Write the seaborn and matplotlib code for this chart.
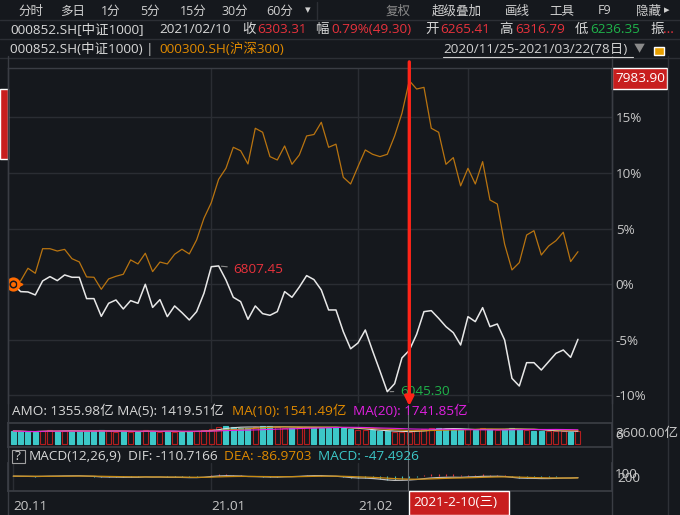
import numpy as np
import pandas as pd
import matplotlib
matplotlib.use('Agg')
import matplotlib.pyplot as plt
from matplotlib.patches import Rectangle
from matplotlib.lines import Line2D
import seaborn as sns

# % change vs 2020-11-25 close, one value per trading day (78 days)
csi1000_pct = [0.0, -0.66, -0.69, -0.96, 0.30, 0.69, 0.33, 0.84, 0.63, 0.63,
               -1.29, -1.29, -2.88, -1.71, -1.41, -2.22, -1.47, -1.71, 0.0, -2.08,
               -1.38, -2.91, -1.95, -2.55, -3.21, -2.46, -0.81, 1.58, 1.65, 0.39,
               -1.17, -1.56, -3.15, -1.95, -2.64, -2.79, -2.46, -0.66, -1.17, -0.25,
               0.78, 0.42, -0.51, -2.31, -2.31, -4.26, -5.80, -5.28, -4.11, -6.00,
               -7.80, -9.66, -8.94, -6.62, -5.94, -4.50, -2.46, -2.37, -3.06, -3.81,
               -4.35, -5.46, -2.91, -3.36, -2.10, -3.81, -3.57, -5.01, -8.46, -9.15,
               -7.05, -7.05, -7.71, -6.96, -6.21, -5.91, -6.57, -4.95]
csi300_pct = [0.0, 0.30, 1.44, 0.99, 3.20, 3.20, 2.99, 3.14, 2.30, 2.01,
              0.66, 0.63, -0.45, 0.48, 0.72, 0.90, 2.19, 1.83, 2.79, 1.14,
              2.00, 1.83, 2.70, 3.15, 2.73, 3.99, 5.94, 7.34, 9.44, 10.43,
              12.32, 12.01, 10.82, 14.03, 13.67, 11.48, 11.18, 12.44, 10.79, 11.63,
              13.34, 13.47, 14.57, 12.32, 12.60, 9.62, 9.02, 10.58, 12.08, 11.69,
              11.48, 11.69, 13.34, 15.38, 18.31, 17.56, 17.71, 14.03, 13.67, 10.79,
              11.39, 8.85, 10.43, 9.02, 11.03, 7.58, 7.22, 3.60, 1.29, 1.95,
              4.43, 4.82, 2.63, 3.44, 3.92, 4.68, 2.04, 2.93]
# turnover (亿) of 000852
amount_yi = [1500, 1450, 1380, 1420, 1550, 1600, 1480, 1520, 1500, 1460,
             1540, 1480, 1620, 1450, 1400, 1500, 1380, 1420, 1560, 1450,
             1400, 1500, 1430, 1380, 1450, 1520, 1600, 1750, 1950, 2100,
             2000, 1900, 1850, 1980, 2020, 2050, 1980, 1900, 1880, 1950,
             2010, 1920, 1870, 1900, 1970, 1800, 1750, 1620, 1580, 1560,
             1450, 1480, 1390, 1428, 1356, 1650, 1700, 1900, 1850, 1750,
             1700, 1600, 1700, 1650, 1800, 1700, 1600, 1750, 1900, 1700,
             1600, 1550, 1500, 1550, 1480, 1450, 1420, 1500]
grid_days = [27, 47, 62]          # 21.01, 21.02, 21.03
date_labels = ['20.11', '21.01', '21.02']
date_label_days = [0, 27, 47]
base_price = 6701.6
sel_day = 54                      # 2021-02-10

W, H = 680, 515
BG = '#15181d'
GRID = '#2a2d33'
TXT = '#c8c8c8'
RED = '#e8323c'
GREEN = '#1fb34a'
ORANGE = '#e08a00'
CYAN = '#3cc8c8'
MAGENTA = '#e020e0'
FS = 9.7

sns.set_theme(style='dark', rc={'figure.facecolor': BG, 'axes.facecolor': BG,
                                'savefig.facecolor': BG})
plt.rcParams['font.family'] = ['Open Sans', 'Noto Sans CJK SC', 'DejaVu Sans']

fig = plt.figure(figsize=(W / 100, H / 100), dpi=100)


def px_axes(x0, y0, x1, y1):
    return fig.add_axes([x0 / W, 1 - y1 / H, (x1 - x0) / W, (y1 - y0) / H])


def ftxt(x, y, s, color=TXT, size=FS, ha='left', **kw):
    fig.text(x / W, 1 - y / H, s, color=color, fontsize=size, ha=ha, va='center', **kw)


def fline(x0, y0, x1, y1, color=GRID, lw=1.0):
    fig.add_artist(Line2D([x0 / W, x1 / W], [1 - y0 / H, 1 - y1 / H], color=color, lw=lw))


def frect(x0, y0, x1, y1, color, **kw):
    fig.add_artist(Rectangle((x0 / W, 1 - y1 / H), (x1 - x0) / W, (y1 - y0) / H,
                             facecolor=color, **kw))


days = np.arange(len(csi1000_pct))
xlim = (-0.68, 81.6)

# ---- main chart
ax = px_axes(8.3, 68, 611.7, 402.7)
df = pd.DataFrame({'day': days, 'csi1000': csi1000_pct, 'csi300': csi300_pct})
sns.lineplot(data=df, x='day', y='csi300', ax=ax, color='#b97410', lw=0.9)
sns.lineplot(data=df, x='day', y='csi1000', ax=ax, color='#e8e8e8', lw=1.1)
ax.set_xlim(xlim)
ax.set_ylim(-10.65, 19.45)
ax.set_xticks(grid_days)
ax.set_xticklabels([])
ax.set_yticks([-10, -5, 0, 5, 10, 15])
ax.set_yticklabels(['-10%', '-5%', '0%', '5%', '10%', '15%'])
ax.yaxis.tick_right()
ax.tick_params(axis='y', colors=TXT, labelsize=FS, length=0, pad=3)
ax.tick_params(axis='x', length=0)
ax.grid(True, color=GRID, lw=1.0)
ax.set_xlabel('')
ax.set_ylabel('')
for side, sp in ax.spines.items():
    sp.set_visible(side in ('top', 'right', 'left'))
    sp.set_color('#3a3d44')
    sp.set_linewidth(1.0)

ax.plot(0, 0, marker='o', ms=8, mfc=BG, mec='#ff6a00', mew=2.2, zorder=5)
ax.plot(0, 0, marker='o', ms=2.5, color='#ff6a00', zorder=6)
ax.plot(0.95, 0, marker='>', ms=3.5, color='#ff6a00', zorder=6)

ax.annotate('6807.45', xy=(28, 1.65), xytext=(30.0, 1.29), color=RED, fontsize=FS,
            va='center', ha='left', arrowprops=dict(arrowstyle='-', color='#8a8a8a', lw=0.8))
ax.annotate('6045.30', xy=(51, -9.66), xytext=(52.7, -9.6), color=GREEN, fontsize=FS,
            va='center', ha='left', arrowprops=dict(arrowstyle='-', color='#8a8a8a', lw=0.8))
ax.annotate('', xy=(sel_day, -10.95), xytext=(sel_day, 20.0), annotation_clip=False,
            arrowprops=dict(arrowstyle='-|>', color='#ff2418', lw=2.4, mutation_scale=13,
                            shrinkA=0, shrinkB=0), zorder=10)

# ---- amount panel
ax_v = px_axes(8.3, 422.7, 611.7, 446.7)
up = np.r_[False, np.diff(csi1000_pct) > 0]
fills = [BG if u else CYAN for u in up]
edges = ['#b41e1e' if u else CYAN for u in up]
ax_v.bar(days, amount_yi, width=0.68, color=fills, edgecolor=edges, linewidth=0.8)
amt = pd.Series(amount_yi)
for n, c in [(5, '#d8d8d8'), (10, '#c88a10'), (20, MAGENTA)]:
    sns.lineplot(x=days, y=amt.rolling(n, min_periods=1).mean().values, ax=ax_v,
                 color=c, lw=0.8)
ax_v.set_xlim(xlim)
ax_v.set_ylim(-312, 2458)
ax_v.set_xticks(grid_days)
ax_v.set_yticks([])
ax_v.set_xticklabels([])
ax_v.tick_params(length=0)
ax_v.grid(True, axis='x', color=GRID)
for side, sp in ax_v.spines.items():
    sp.set_color('#3a3d44')

# ---- MACD panel
ax_m = px_axes(8.3, 463, 611.7, 490.7)
price = pd.Series(base_price * (1 + np.array(csi1000_pct) / 100))
dif = price.ewm(span=12, adjust=False).mean() - price.ewm(span=26, adjust=False).mean()
dea = dif.ewm(span=9, adjust=False).mean()
hist = 2 * (dif - dea)
ax_m.vlines(days, 0, hist, colors=[RED if h > 0 else CYAN for h in hist], lw=0.8)
sns.lineplot(x=days, y=dif.values, ax=ax_m, color='#bdbdbd', lw=0.9)
sns.lineplot(x=days, y=dea.values, ax=ax_m, color='#c88a10', lw=0.9)
ax_m.set_xlim(xlim)
ax_m.set_ylim(-420, 380)
ax_m.set_yticks([])
ax_m.set_xticks(date_label_days)
ax_m.set_xticklabels(date_labels, ha='left', color=TXT, fontsize=FS)
ax_m.set_xticks(np.arange(0, 78, 4), minor=True)
ax_m.tick_params(axis='x', which='both', direction='out', length=4, color='#55585e', pad=3)
ax_m.grid(True, axis='x', color=GRID)
ax_m.spines['top'].set_visible(False)
for side, sp in ax_m.spines.items():
    sp.set_color('#3a3d44')

# crosshair through lower panels
fline(408.3, 405, 408.3, 490, color='#6a6d72', lw=0.8)
# right divider and scroll column
fline(611.7, 56, 611.7, 515, color='#3a3d44')
fline(668, 56, 668, 515, color='#2e3137')

# ---- header rows
fline(0, 20, 680, 20, color='#2c2f35')
fline(0, 39, 680, 39, color='#2c2f35')
fline(0, 58, 680, 58, color='#2c2f35')
for x, s in [(18, '分时'), (60, '多日'), (101, '1分'), (140, '5分'), (180, '15分'),
             (222, '30分'), (266, '60分')]:
    ftxt(x, 11, s, '#d0d0d0', size=9)
ftxt(305, 11, '▾', '#d0d0d0', size=8)
fline(317, 2, 317, 19, color='#2c2f35')
ftxt(386, 11, '复权', '#8a8a8a', size=9)
for x, s in [(432, '超级叠加'), (505, '画线'), (549, '工具'), (598, 'F9'), (636, '隐藏')]:
    ftxt(x, 11, s, '#d0d0d0', size=9)
ftxt(664, 11, '▸', '#d0d0d0', size=8)

ftxt(10, 29.5, '000852.SH[中证1000]', '#d8d8d8')
ftxt(159, 29.5, '2021/02/10', '#d8d8d8')
ftxt(242, 29.5, '收', '#d8d8d8')
ftxt(257, 29.5, '6303.31', RED)
ftxt(315, 29.5, '幅', '#d8d8d8')
ftxt(331, 29.5, '0.79%(49.30)', RED)
ftxt(425, 29.5, '开', '#d8d8d8')
ftxt(440, 29.5, '6265.41', RED)
ftxt(499, 29.5, '高', '#d8d8d8')
ftxt(515, 29.5, '6316.79', RED)
ftxt(575, 29.5, '低', '#d8d8d8')
ftxt(590, 29.5, '6236.35', GREEN)
ftxt(650, 29.5, '振', '#d8d8d8')
ftxt(663, 29.5, '...', RED)

ftxt(10, 49.5, '000852.SH(中证1000) |', '#d8d8d8')
ftxt(159, 49.5, '000300.SH(沪深300)', ORANGE)
ftxt(443, 49.5, '2020/11/25-2021/03/22(78日)', '#d0d0d0')
fline(443, 57, 633, 57, color='#d0d0d0', lw=0.8)
ftxt(634, 49.5, '▼', '#8a8a8a', size=8)
frect(654, 47, 664, 55, '#e8a000')

# left sidebar
fline(8.3, 56, 8.3, 515, color='#3a3d44')
frect(0, 89, 8, 159, '#c81e1e')

# price tag on the right
frect(612, 68, 667, 89, '#c81e1e')
ftxt(615, 78.5, '7983.90', 'white')

# amount / MACD captions
ftxt(12, 411, 'AMO: 1355.98亿 MA(5): 1419.51亿', '#d8d8d8')
ftxt(232, 411, 'MA(10): 1541.49亿', ORANGE)
ftxt(353, 411, 'MA(20): 1741.85亿', MAGENTA)
ftxt(615, 433, '3600.00亿', TXT)
ftxt(615, 435.5, '6', TXT)
frect(12, 450, 25, 463, 'none', edgecolor='#a0a0a0', linewidth=0.8)
ftxt(15, 456.5, '?', '#d8d8d8')
ftxt(29, 456.5, 'MACD(12,26,9)', '#d8d8d8')
ftxt(128, 456.5, 'DIF: -110.7166', '#d8d8d8')
ftxt(224, 456.5, 'DEA: -86.9703', ORANGE)
ftxt(318, 456.5, 'MACD: -47.4926', CYAN)
ftxt(615, 475, '100', TXT)
ftxt(617, 479, '200', TXT)

# selected date box
frect(409, 491, 509, 515, '#c81e1e')
ftxt(455, 503, '2021-2-10(三)', 'white', ha='center')

fig.savefig('out.png', dpi=100, facecolor=BG)
